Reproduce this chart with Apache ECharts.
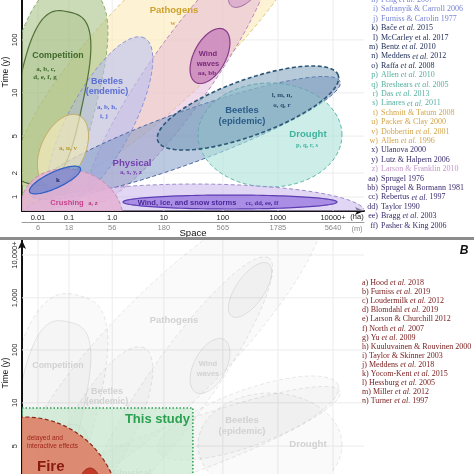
<!DOCTYPE html>
<html><head><meta charset="utf-8">
<script src="https://cdn.jsdelivr.net/npm/echarts@6/dist/echarts.min.js"></script>
<style>html,body{margin:0;padding:0;background:#fff}#c{width:474px;height:474px}</style>
</head><body><div id="c"></div>
<script>
// ---------- axes (conceptual, hand-drawn scale) ----------
const spaceTicksHa = ['0.01','0.1','1.0','10','100','1000','10000+'];
const spaceTicksM  = ['6','18','56','180','565','1785','5640'];
const spaceTickAt  = [0, 0.63, 1.51, 2.56, 3.76, 4.88, 6];
const timeTicks    = ['1','2','5','10','100','1,000','10,000+'];
const timeTickAt   = [0, 0.57, 1.45, 2.48, 3.74, 4.98, 6];
const spaceRange   = [-0.325, 6.63];
const timeRangeA   = [-0.333, 4.69];
const timeRangeB   = [-0.333, 6.357];

// ---------- disturbance regions (space / time extents) ----------
const shapeNames  = ['Pathogens','Competition','Wind zone','Wind (upper)','Beetles (endemic)','Physical','Drought','Beetles (epidemic)','Competition core','a, u, v','Wind waves','Storms zone','Crushing','Storms core','k'];
const shapeSpace  = [2.685, 0.244, 2.888, 4.312, 1.261, 2.99, 4.718, 4.271, 0.244, 0.508, 3.498, 3.193, 0.691, 3.905, 0.346];
const shapeTime   = [3.857, 2.31, 2.905, 5.167, 1.786, 1.405, 1.476, 2.119, 2.357, 1.119, 3.357, -0.357, -0.357, -0.119, 0.405];
const shapeLength = [4.27, 2.40, 3.152, 0.651, 1.932, 3.356, 1.464, 1.952, 1.79, 0.773, 0.61, 3.457, 1.058, 2.176, 0.569];
const shapeBreadth= [1.16, 0.936, 0.651, 0.285, 0.651, 0.529, 1.058, 0.569, 0.671, 0.447, 0.325, 0.569, 0.854, 0.142, 0.163];
const shapeTilt   = [45, 76, 55, 55, 62, 20, 0, 20, 78, 65, 62, 0, -20, 0, 25];
const shapeRound  = [2, 2.8, 2, 2, 2, 2, 2, 2, 3, 2, 2, 2, 2, 2, 2];

// panel B: fire and this study
const fireNames   = ['Fire','Fire core'];
const fireSpace   = [-0.264, 1.058];
const fireTime    = [-0.238, 0.357];
const fireLength  = [1.95, 0.244];
const fireBreadth = [2.034, 0.488];
const fireRound   = [2, 2];
const studySpan   = [-0.325, 3.15];
const studyYears  = [-0.333, 2.36];

// ---------- annotations ----------
const annotText  = ['Pathogens','w','Competition','a, b, c,','d, e, f, g','Wind','waves','aa, bb','Beetles','(endemic)','a, b, h,','i, j','Beetles','(epidemic)','l, m, n,','o, q, r','Drought','p, q, r, s','Physical','a, x, y, z','a, u, v','k','Crushing','a, z','Wind, ice, and snow storms','cc, dd, ee, ff'];
const annotSpace = [2.766,2.746,0.407,0.163,0.142,3.457,3.457,3.437,1.403,1.403,1.403,1.342,4.149,4.149,4.962,4.962,5.491,5.471,1.912,1.891,0.61,0.407,0.59,1.119,3.03,4.556];
const annotTime  = [4.452,4.143,3.357,3.048,2.857,3.405,3.167,2.952,2.738,2.5,2.143,1.929,2.071,1.81,2.429,2.19,1.5,1.238,0.81,0.595,1.167,0.405,-0.143,-0.143,-0.143,-0.143];
const annotKind  = ['pathT','pathC','compT','compC','compC','windT','windT','windC','endT','endT','endC','endC','epiT','epiT','epiC','epiC','droT','droC','phyT','phyC','auvC','kC','cruT','cruC','stoT','stoC'];
const fireText   = ['delayed and','interactive effects','Fire','This study'];
const fireTextSpace = [-0.224, -0.224, -0.02, 3.09];
const fireTextTime  = [1.643, 1.452, 0.952, 2.095];

// ---------- references ----------
const refLettersA = ['h','i','j','k','l','m','n','o','p','q','r','s','t','u','v','w','x','y','z','aa','bb','cc','dd','ee','ff'];
const refNamesA = ['Feng *et al.* 2007','Safranyik & Carroll 2006','Furniss & Carolin 1977','Bače *et al.* 2015','McCarley et al. 2017','Bentz *et al.* 2010','Meddens *et al.* 2012','Raffa *et al.* 2008','Allen *et al.* 2010','Breshears *et al.* 2005','Das *et al.* 2013','Linares *et al.* 2011','Schmitt & Tatum 2008','Packer & Clay 2000','Dobbertin *et al.* 2001','Allen *et al.* 1996','Ulanova 2000','Lutz & Halpern 2006','Larson & Franklin 2010','Sprugel 1976','Sprugel & Bormann 1981','Rebertus *et al.* 1997','Taylor 1990','Bragg *et al.* 2003','Pasher & King 2006'];
const refGroupA = [0,0,0,1,1,1,1,1,2,2,2,2,3,3,3,3,4,4,5,4,4,4,4,4,4];
const refLettersB = ['a','b','c','d','e','f','g','h','i','j','k','l','m','n'];
const refNamesB = ['Hood *et al.* 2018','Furniss *et al.* 2019','Loudermilk *et al.* 2012','Blomdahl *et al.* 2019','Larson & Churchill 2012','North *et al.* 2007','Yu *et al.* 2009','Kuuluvainen & Rouvinen 2000','Taylor & Skinner 2003','Meddens *et al.* 2018','Yocom-Kent *et al.* 2015','Hessburg *et al.* 2005','Miller *et al.* 2012','Turner *et al.* 1997'];

// ---------- styles ----------
const SANS = '"Liberation Sans", Arial, sans-serif';
const SERIF = '"Liberation Serif", "Times New Roman", serif';
const shapeStyles = [
  {fill:'rgba(251,236,186,0.62)', stroke:'#e2c978', dash:true},
  {fill:'rgba(170,195,135,0.6)', stroke:'#8fae74', dash:true},
  {fill:'rgba(226,180,214,0.5)', stroke:'#b888b8', dash:true},
  {fill:'rgba(205,150,200,0.55)', stroke:'#a06aa0', dash:false},
  {fill:'rgba(185,192,242,0.6)', stroke:'#8a93d8', dash:true},
  {fill:'rgba(120,148,196,0.5)', stroke:'#4d68a4', dash:true},
  {fill:'rgba(175,228,218,0.62)', stroke:'#5cb7a6', dash:true},
  {fill:'rgba(112,150,182,0.5)', stroke:'#2b5776', dash:true, width:1.6},
  {fill:'rgba(130,165,95,0.22)', stroke:'#53703a', dash:false, width:1.2},
  {fill:'rgba(243,233,190,0.7)', stroke:'#c4ab62', dash:false},
  {fill:'rgba(190,110,182,0.65)', stroke:'#873c88', dash:false, width:1.2},
  {fill:'rgba(205,188,238,0.6)', stroke:'#9c8ccc', dash:true},
  {fill:'rgba(228,176,210,0.85)', stroke:'#c58aae', dash:true},
  {fill:'rgba(160,128,226,0.85)', stroke:'#5c3cb2', dash:false, width:1.2},
  {fill:'rgba(84,120,205,0.6)', stroke:'#2b5ec4', dash:false, width:1.2}
];
const fireStyles = [
  {fill:'rgba(222,122,96,0.85)', stroke:'#8b2a1c', dash:true, width:1.2},
  {fill:'#c23a28', stroke:'#9a2a1a', dash:false}
];
const annotStyles = {
  pathT:{fill:'#cfa22f', font:'bold 9.5px '+SANS}, pathC:{fill:'#c9a040', font:'bold 7px '+SERIF},
  compT:{fill:'#3f6a2a', font:'bold 8.8px '+SANS}, compC:{fill:'#3f6a2a', font:'bold 7px '+SERIF},
  windT:{fill:'#7a2a7a', font:'bold 7.5px '+SANS}, windC:{fill:'#7a2a7a', font:'bold 7px '+SERIF},
  endT:{fill:'#5b6fd6', font:'bold 9px '+SANS}, endC:{fill:'#5b6fd6', font:'bold 7px '+SERIF},
  epiT:{fill:'#2c5c88', font:'bold 9.4px '+SANS}, epiC:{fill:'#2c4c70', font:'bold 7px '+SERIF},
  droT:{fill:'#3fb29c', font:'bold 9.6px '+SANS}, droC:{fill:'#3fb29c', font:'bold 6.5px '+SERIF},
  phyT:{fill:'#7440b0', font:'bold 9.6px '+SANS}, phyC:{fill:'#7440b0', font:'bold 6.5px '+SERIF},
  auvC:{fill:'#b8982c', font:'bold 7px '+SERIF}, kC:{fill:'#1a2a6a', font:'bold 7px '+SERIF},
  cruT:{fill:'#c8448c', font:'bold 7.6px '+SANS}, cruC:{fill:'#b04080', font:'bold 6.5px '+SERIF},
  stoT:{fill:'#4b2a9a', font:'bold 7.5px '+SANS}, stoC:{fill:'#4b2a9a', font:'bold 6.5px '+SERIF}
};
const fireTextStyles = [
  {fill:'#a0281a', font:'6.6px '+SANS, align:'left'},
  {fill:'#a0281a', font:'6.6px '+SANS, align:'left'},
  {fill:'#8a1a10', font:'bold 15px '+SANS, align:'left'},
  {fill:'#2aa050', font:'bold 13px '+SANS, align:'right'}
];
const refColorsA = ['#7884d4','#22305a','#55b09f','#d3a548','#3a2c6c','#c398c9'];
const refColorB = '#7a2020';

// ---------- helpers ----------
function ellipsePoints(api, u, v, a, b, tiltDeg, n) {
  const c = api.coord([u, v]);
  const unit = api.size([1, 0])[0];
  const th = tiltDeg * Math.PI / 180;
  const pts = [];
  const N = 120;
  for (let k = 0; k < N; k++) {
    const phi = 2 * Math.PI * k / N;
    const cp = Math.cos(phi), sp = Math.sin(phi);
    const ex = Math.sign(cp) * Math.pow(Math.abs(cp), 2 / n) * a * unit;
    const ey = Math.sign(sp) * Math.pow(Math.abs(sp), 2 / n) * b * unit;
    pts.push([c[0] + ex * Math.cos(th) - ey * Math.sin(th), c[1] - ex * Math.sin(th) - ey * Math.cos(th)]);
  }
  return pts;
}
function polyEl(pts, st) {
  return {type:'polygon', shape:{points:pts}, silent:true,
    style:{fill:st.fill, stroke:st.stroke, lineWidth:st.width || 1, lineDash: st.dash ? [4, 2.5] : null}};
}
function lookup(ticks, at, v) {
  const i = at.findIndex(t => Math.abs(t - v) < 1e-6);
  return i >= 0 ? ticks[i] : '';
}
function gridLineData(yr) {
  return spaceTickAt.map(u => [u, yr[0], 0]).concat(timeTickAt.map(t => [spaceRange[0], t, 1]));
}
function gridLineSeries(xi, yi, yr) {
  return {type:'custom', xAxisIndex:xi, yAxisIndex:yi, silent:true, clip:true,
    data: gridLineData(yr), encode:{x:0, y:1},
    renderItem(p, api) {
      const vert = api.value(2) === 0;
      const a = vert ? api.coord([api.value(0), yr[0]]) : api.coord([spaceRange[0], api.value(1)]);
      const b = vert ? api.coord([api.value(0), yr[1]]) : api.coord([spaceRange[1], api.value(1)]);
      return {type:'line', shape:{x1:a[0], y1:a[1], x2:b[0], y2:b[1]}, style:{stroke:'#ececec', lineWidth:1}};
    }};
}
function shapeSeries(xi, yi, faded) {
  return {type:'custom', xAxisIndex:xi, yAxisIndex:yi, silent:true, clip:true,
    data: shapeNames.map((n, i) => [shapeSpace[i], shapeTime[i], i]), encode:{x:0, y:1},
    renderItem(p, api) {
      const i = api.value(2);
      const base = shapeStyles[i];
      const st = faded ? {fill:'rgba(0,0,0,0.018)', stroke:'rgba(0,0,0,0.09)', dash:base.dash, width:1} : base;
      return polyEl(ellipsePoints(api, shapeSpace[i], shapeTime[i], shapeLength[i], shapeBreadth[i], shapeTilt[i], shapeRound[i]), st);
    }};
}
function annotSeries(xi, yi, faded) {
  const idx = annotText.map((t, i) => i).filter(i => !faded || annotKind[i].endsWith('T'));
  return {type:'custom', xAxisIndex:xi, yAxisIndex:yi, silent:true, clip:false,
    data: idx.map(i => [annotSpace[i], annotTime[i], i]), encode:{x:0, y:1},
    renderItem(p, api) {
      const i = api.value(2);
      const c = api.coord([annotSpace[i], annotTime[i]]);
      const st = annotStyles[annotKind[i]];
      return {type:'text', x:c[0], y:c[1], silent:true,
        style:{text:annotText[i], fill: faded ? '#d2d2d2' : st.fill, font: st.font, align:'center', verticalAlign:'middle'}};
    }};
}

// ---------- option ----------
const axisLabelBase = {fontFamily: SANS, fontSize: 7.5, color:'#222'};
const option = {
  animation:false,
  backgroundColor:'#fff',
  grid:[
    {left:22, top:0, width:342, height:211, outerBoundsMode:'none', containLabel:false},
    {left:22, top:240, width:342, height:281, outerBoundsMode:'none', containLabel:false}
  ],
  xAxis:[
    {type:'value', gridIndex:0, min:spaceRange[0], max:spaceRange[1], position:'bottom',
     axisLine:{show:true, onZero:false, lineStyle:{color:'#111', width:2}, symbol:['none','arrow'], symbolSize:[6,9]},
     axisTick:{show:false}, splitLine:{show:false},
     axisLabel:Object.assign({}, axisLabelBase, {customValues:spaceTickAt, margin:3, formatter:v => lookup(spaceTicksHa, spaceTickAt, v)})},
    {type:'value', gridIndex:0, min:spaceRange[0], max:spaceRange[1], position:'bottom', offset:11,
     axisLine:{show:true, onZero:false, lineStyle:{color:'#9a9a9a', width:1}},
     axisTick:{show:false}, splitLine:{show:false},
     axisLabel:Object.assign({}, axisLabelBase, {color:'#8a8a8a', customValues:spaceTickAt, margin:2, formatter:v => lookup(spaceTicksM, spaceTickAt, v)})},
    {type:'value', gridIndex:1, min:spaceRange[0], max:spaceRange[1], show:false}
  ],
  yAxis:[
    {type:'value', gridIndex:0, min:timeRangeA[0], max:timeRangeA[1],
     axisLine:{show:true, onZero:false, lineStyle:{color:'#111', width:2}},
     axisTick:{show:false}, splitLine:{show:false},
     axisLabel:Object.assign({}, axisLabelBase, {rotate:90, customValues:timeTickAt, margin:3, formatter:v => lookup(timeTicks, timeTickAt, v)})},
    {type:'value', gridIndex:1, min:timeRangeB[0], max:timeRangeB[1],
     axisLine:{show:true, onZero:false, lineStyle:{color:'#111', width:2}, symbol:['none','arrow'], symbolSize:[6,9]},
     axisTick:{show:false}, splitLine:{show:false},
     axisLabel:Object.assign({}, axisLabelBase, {rotate:90, customValues:timeTickAt, margin:3, formatter:v => lookup(timeTicks, timeTickAt, v)})}
  ],
  series:[
    gridLineSeries(0, 0, timeRangeA),
    shapeSeries(0, 0, false),
    annotSeries(0, 0, false),
    gridLineSeries(2, 1, timeRangeB),
    shapeSeries(2, 1, true),
    annotSeries(2, 1, true),
    {type:'custom', xAxisIndex:2, yAxisIndex:1, silent:true, clip:true,
     data:[[studySpan[1], studyYears[1]]], encode:{x:0, y:1},
     renderItem(p, api) {
       const a = api.coord([studySpan[0], studyYears[1]]);
       const b = api.coord([studySpan[1], studyYears[0]]);
       return {type:'rect', shape:{x:a[0], y:a[1], width:b[0]-a[0], height:b[1]-a[1]},
         style:{fill:'rgba(196,232,204,0.62)', stroke:'#2e9e55', lineWidth:1.5, lineDash:[1.5,2]}};
     }},
    {type:'custom', xAxisIndex:2, yAxisIndex:1, silent:true, clip:true,
     data: fireNames.map((n, i) => [fireSpace[i], fireTime[i], i]), encode:{x:0, y:1},
     renderItem(p, api) {
       const i = api.value(2);
       return polyEl(ellipsePoints(api, fireSpace[i], fireTime[i], fireLength[i], fireBreadth[i], 0, fireRound[i]), fireStyles[i]);
     }},
    {type:'custom', xAxisIndex:2, yAxisIndex:1, silent:true, clip:false,
     data: fireText.map((t, i) => [fireTextSpace[i], fireTextTime[i], i]), encode:{x:0, y:1},
     renderItem(p, api) {
       const i = api.value(2);
       const c = api.coord([fireTextSpace[i], fireTextTime[i]]);
       const st = fireTextStyles[i];
       return {type:'text', x:c[0], y:c[1], style:{text:fireText[i], fill:st.fill, font:st.font, align:st.align, verticalAlign:'middle'}};
     }}
  ],
  graphic: []
};

// ---------- static text / decorations ----------
const g = option.graphic;
g.push({type:'rect', left:0, top:237, shape:{width:474, height:3}, style:{fill:'#8c8c8c'}, z:100});
g.push({type:'text', x:357, y:217, style:{text:'(ha)', font:'7.5px '+SANS, fill:'#222', align:'center', verticalAlign:'middle'}});
g.push({type:'text', x:357, y:229, style:{text:'(m)', font:'7.5px '+SANS, fill:'#8a8a8a', align:'center', verticalAlign:'middle'}});
g.push({type:'text', x:193, y:233, style:{text:'Space', font:'9.5px '+SANS, fill:'#111', align:'center', verticalAlign:'middle'}});
g.push({type:'text', x:6, y:72, rotation:Math.PI/2, style:{text:'Time (y)', font:'8.5px '+SANS, fill:'#111', align:'center', verticalAlign:'middle'}});
g.push({type:'text', x:6, y:373, rotation:Math.PI/2, style:{text:'Time (y)', font:'8.5px '+SANS, fill:'#111', align:'center', verticalAlign:'middle'}});
g.push({type:'text', x:464, y:251, style:{text:'B', font:'italic bold 12px '+SANS, fill:'#111', align:'center', verticalAlign:'middle'}});

function richRef(name, color) {
  return {text: name.replace('*et al.*', '{i|et al.}'), fill: color, fontSize: 8, fontFamily: SERIF,
    verticalAlign:'middle', rich:{i:{fontStyle:'italic', fontSize:8, fontFamily:SERIF, fill:color}}};
}
refLettersA.forEach((l, i) => {
  const col = refColorsA[refGroupA[i]];
  const y = i * 9.4;
  g.push({type:'text', x:378, y:y, style:{text:l + ')', fill:col, fontSize:8, fontFamily:SERIF, align:'right', verticalAlign:'middle'}});
  g.push({type:'text', x:381, y:y, style:Object.assign(richRef(refNamesA[i], col), {align:'left'})});
});
refLettersB.forEach((l, i) => {
  const y = 283 + i * 9.1;
  g.push({type:'text', x:362, y:y, style:Object.assign(richRef(l + ') ' + refNamesB[i], refColorB), {align:'left'})});
});

const chart = echarts.init(document.getElementById('c'));
chart.setOption(option);
</script></body></html>
